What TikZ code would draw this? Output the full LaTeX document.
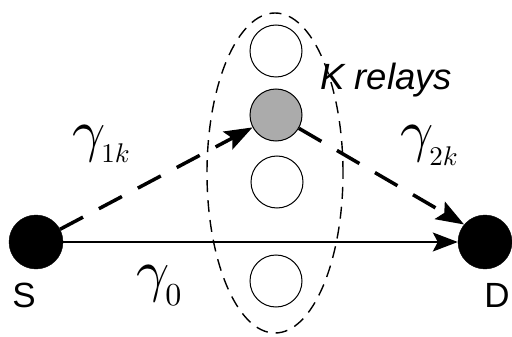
\documentclass[tikz,border=0pt]{standalone}
\usepackage{graphicx}
\usepackage{fontspec}
\newfontfamily\arialf{Liberation Sans}
\usetikzlibrary{arrows.meta,shapes.geometric}
\tikzset{
  endnode/.style={circle,fill=black,draw=black,minimum size=54pt,inner sep=0pt},
  relay/.style={circle,draw=black,line width=1pt,fill=white,minimum size=52pt,inner sep=0pt},
  chosen/.style={relay,fill=black!33},
  hoplink/.style={line width=3.5pt,dash pattern=on 26pt off 18pt,
     -{Stealth[length=28pt,width=20pt,inset=5pt]}},
  directlink/.style={line width=1.3pt,-{Stealth[length=25pt,width=19pt,inset=5pt]}},
  cluster/.style={ellipse,draw=black,line width=1.4pt,dash pattern=on 12pt off 8pt,
     minimum width=136pt,minimum height=320pt,inner sep=0pt},
  sflabel/.style={font=\arialf\fontsize{35}{40}\selectfont,inner sep=0pt},
  glabel/.style={inner sep=0pt,anchor=base west}
}
\begin{document}
\begin{tikzpicture}[x=1pt,y=-1pt]
\useasboundingbox (0,0) rectangle (512,337);
\node[cluster] (grp) at (275,173) {};
\node[relay] (r1) at (276,51) {};
\node[chosen] (r2) at (276,115) {};
\node[relay] (r3) at (277,182) {};
\node[relay] (r4) at (276,281) {};
\node[endnode] (S) at (36,242) {};
\node[endnode] (D) at (485,242) {};
\draw[directlink] (S) -- (D);
\draw[hoplink] (S) -- (r2);
\draw[hoplink] (r2) -- (D.140);
\node[sflabel] (sl) at (24,295) {S};
\node[sflabel] (dl) at (497,295) {D};
\node[sflabel,font=\arialf\itshape\fontsize{36.5}{40}\selectfont,anchor=base west] (kl) at (320,89) {K relays};
\node[glabel] (g1) at (72,150) {\scalebox{5.8}{$\gamma$}\kern-4pt\raisebox{-13pt}{\scalebox{2.7}{$1k$}}};
\node[glabel] (g2) at (400,150) {\scalebox{5.8}{$\gamma$}\kern-4pt\raisebox{-15pt}{\scalebox{2.7}{$2k$}}};
\node[glabel] (g0) at (136,290) {\scalebox{5.8}{$\gamma$}\kern-4pt\raisebox{-15pt}{\scalebox{3.2}{$0$}}};
\end{tikzpicture}
\end{document}
